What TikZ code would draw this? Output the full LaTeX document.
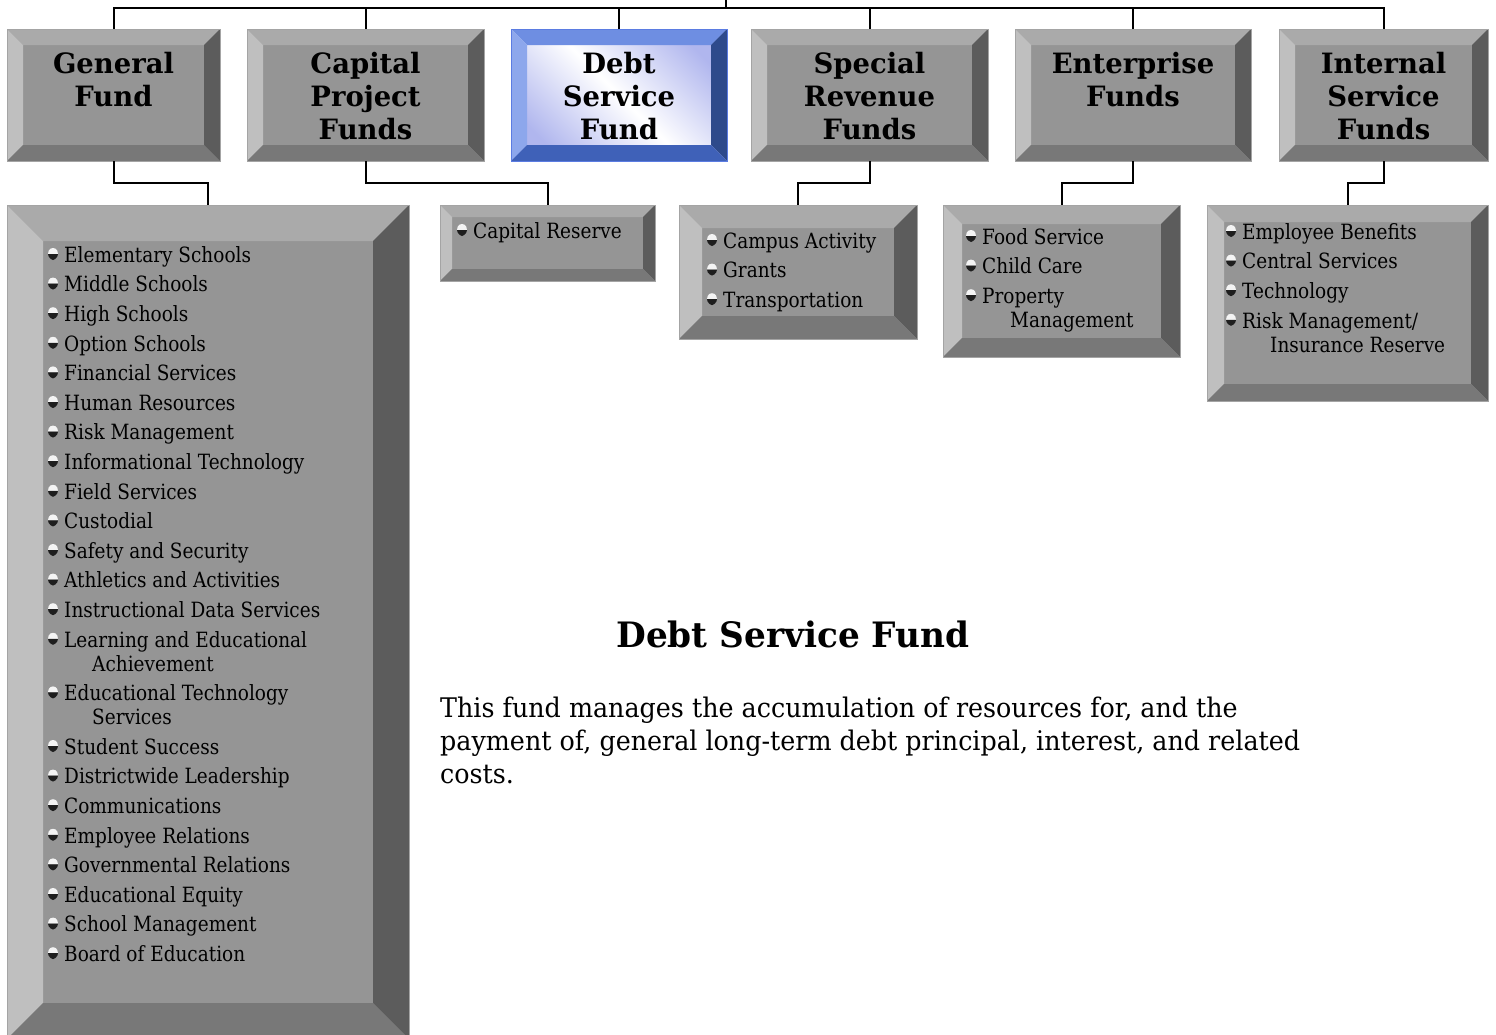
\documentclass[tikz,border=0pt]{standalone}
\usepackage{fontspec}
\setmainfont{DejaVu Serif}[FakeStretch=0.94, BoldFeatures={FakeStretch=0.98}]
\newfontfamily\listfont{DejaVu Serif}[FakeStretch=0.88]
\usepackage{tikz}
\usetikzlibrary{calc}
\definecolor{face}{HTML}{959595}
\definecolor{bevTop}{HTML}{AAAAAA}
\definecolor{bevLeft}{HTML}{BFBFBF}
\definecolor{bevRight}{HTML}{5C5C5C}
\definecolor{bevBot}{HTML}{787878}
\definecolor{rim}{HTML}{A4A4A4}
\definecolor{blueTop}{HTML}{6E8EE2}
\definecolor{blueLeft}{HTML}{8DA7EC}
\definecolor{blueRight}{HTML}{2E4A8B}
\definecolor{blueBot}{HTML}{3F61B8}
\definecolor{blueRim}{HTML}{5B7CE2}
\definecolor{blueFace}{HTML}{B0B6EE}
\definecolor{bulTop}{HTML}{F4F4F4}
\definecolor{bulBot}{HTML}{1E1E1E}
\newcommand{\wrapin}{\hspace*{28pt}}
\newcommand{\isep}{5.6pt}
\tikzset{
  bevel width/.store in=\bevW, bevel width=16pt,
  bev top/.store in=\bvT, bev top=bevTop,
  bev left/.store in=\bvL, bev left=bevLeft,
  bev right/.store in=\bvR, bev right=bevRight,
  bev bot/.store in=\bvB, bev bot=bevBot,
  fundBox/.style={draw=rim, line width=0.8pt, fill=face, inner sep=0pt, outer sep=0pt,
    anchor=north west,
    path picture={
      \coordinate (nw) at (path picture bounding box.north west);
      \coordinate (ne) at (path picture bounding box.north east);
      \coordinate (se) at (path picture bounding box.south east);
      \coordinate (sw) at (path picture bounding box.south west);
      \fill[\bvT] (nw) -- (ne) -- ($(ne)+(-\bevW,-\bevW)$) -- ($(nw)+(\bevW,-\bevW)$) -- cycle;
      \fill[\bvL] (nw) -- ($(nw)+(\bevW,-\bevW)$) -- ($(sw)+(\bevW,\bevW)$) -- (sw) -- cycle;
      \fill[\bvR] (ne) -- (se) -- ($(se)+(-\bevW,\bevW)$) -- ($(ne)+(-\bevW,-\bevW)$) -- cycle;
      \fill[\bvB] (sw) -- (se) -- ($(se)+(-\bevW,\bevW)$) -- ($(sw)+(\bevW,\bevW)$) -- cycle;
    }},
  blueBox/.style={fundBox, draw=blueRim, top color=blueFace, bottom color=blueFace,
    middle color=white, shading angle=-45,
    bev top=blueTop, bev left=blueLeft, bev right=blueRight, bev bot=blueBot},
  fundTitle/.style={align=center, font=\fontsize{28}{33}\selectfont\bfseries},
  listText/.style={anchor=north west, inner sep=0pt, align=left,
    font=\fontsize{21}{24}\selectfont\listfont},
  treeLink/.style={draw=black, line width=2pt},
  bulletMark/.pic={
    \fill[bulTop] (-5pt,0pt) -- (-4.3pt,3.3pt) -- (-2.6pt,5.3pt) -- (0pt,6pt)
      -- (2.6pt,5.3pt) -- (4.3pt,3.3pt) -- (5pt,0pt) -- cycle;
    \fill[bulBot] (-5pt,0pt) -- (-4.3pt,-2.6pt) -- (-2.4pt,-4.8pt) -- (0pt,-6pt)
      -- (2.4pt,-4.8pt) -- (4.3pt,-2.6pt) -- (5pt,0pt) -- cycle;
  }
}

\begin{document}
\begin{tikzpicture}[x=1pt,y=-1pt]
  \useasboundingbox (0,0) rectangle (1496,1034);
  \fill[white] (0,0) rectangle (1496,1034);
  \clip (0,0) rectangle (1496,1034);

  \coordinate (root) at (726,0);
  \coordinate (bus) at (726,8);

  % fund row
  \node[fundBox, fundTitle, minimum width=213pt, minimum height=132pt] (genfund) at (7,29)
    {\strut General\\Fund\\\mbox{}};
  \node[fundBox, fundTitle, minimum width=237pt, minimum height=132pt] (capfund) at (247,29)
    {\strut Capital\\Project\\Funds};
  \node[blueBox, fundTitle, minimum width=216pt, minimum height=132pt] (debtfund) at (511,29)
    {\strut Debt\\Service\\Fund};
  \node[fundBox, fundTitle, minimum width=237pt, minimum height=132pt] (specfund) at (751,29)
    {\strut Special\\Revenue\\Funds};
  \node[fundBox, fundTitle, minimum width=236pt, minimum height=132pt] (entfund) at (1015,29)
    {\strut Enterprise\\Funds\\\mbox{}};
  \node[fundBox, fundTitle, minimum width=209pt, minimum height=132pt] (intfund) at (1279,29)
    {\strut Internal\\Service\\Funds};

  % sub-fund boxes
  \node[fundBox, bevel width=36pt, minimum width=402pt, minimum height=834pt] (genlist) at (7,205) {};
  \node[fundBox, bevel width=12pt, minimum width=215pt, minimum height=76pt] (caplist) at (440,205) {};
  \node[fundBox, bevel width=23pt, minimum width=238pt, minimum height=134pt] (speclist) at (679,205) {};
  \node[fundBox, bevel width=19pt, minimum width=237pt, minimum height=152pt] (entlist) at (943,205) {};
  \node[fundBox, bevel width=17pt, minimum width=281pt, minimum height=196pt] (intlist) at (1207,205) {};

  \draw[treeLink] (root) -- (bus);
  \draw[treeLink] (genfund.north) |- (bus);
  \draw[treeLink] (capfund.north) |- (bus);
  \draw[treeLink] (debtfund.north) |- (bus);
  \draw[treeLink] (specfund.north) |- (bus);
  \draw[treeLink] (entfund.north) |- (bus);
  \draw[treeLink] (intfund.north) |- (bus);

  \draw[treeLink] (genfund.south) |- ($(genfund.south)!.5!(genlist.north)$) -| (genlist.north);
  \draw[treeLink] (capfund.south) |- ($(capfund.south)!.5!(caplist.north)$) -| (caplist.north);
  \draw[treeLink] (specfund.south) |- ($(specfund.south)!.5!(speclist.north)$) -| (speclist.north);
  \draw[treeLink] (entfund.south) |- ($(entfund.south)!.5!(entlist.north)$) -| (entlist.north);
  \draw[treeLink] (intfund.south) |- ($(intfund.south)!.5!(intlist.north)$) -| (intlist.north);

  \node[listText] (genitems) at (64,245.2) {\strut Elementary Schools\\[\isep]
    Middle Schools\\[\isep]
    High Schools\\[\isep]
    Option Schools\\[\isep]
    Financial Services\\[\isep]
    Human Resources\\[\isep]
    Risk Management\\[\isep]
    Informational Technology\\[\isep]
    Field Services\\[\isep]
    Custodial\\[\isep]
    Safety and Security\\[\isep]
    Athletics and Activities\\[\isep]
    Instructional Data Services\\[\isep]
    Learning and Educational\\
    \wrapin Achievement\\[\isep]
    Educational Technology\\
    \wrapin Services\\[\isep]
    Student Success\\[\isep]
    Districtwide Leadership\\[\isep]
    Communications\\[\isep]
    Employee Relations\\[\isep]
    Governmental Relations\\[\isep]
    Educational Equity\\[\isep]
    School Management\\[\isep]
    Board of Education};
  \node[listText] (capitems) at (473,221.2) {\strut Capital Reserve};
  \node[listText] (specitems) at (723,231.2) {\strut Campus Activity\\[\isep]
    Grants\\[\isep]
    Transportation};
  \node[listText] (entitems) at (982,227.2) {\strut Food Service\\[\isep]
    Child Care\\[\isep]
    Property\\
    \wrapin Management};
  \node[listText] (intitems) at (1242,222.2) {\strut Employee Benefits\\[\isep]
    Central Services\\[\isep]
    Technology\\[\isep]
    Risk Management/\\
    \wrapin Insurance Reserve};

  % bullets, one per item
  \foreach \k in {0,...,13}
    \pic at ($(genitems.north west)+(-11,8.8+29.6*\k)$) {bulletMark};
  \pic at ($(genitems.north west)+(-11,8.8+29.6*14+24)$) {bulletMark};
  \foreach \k in {15,...,22}
    \pic at ($(genitems.north west)+(-11,8.8+29.6*\k+48)$) {bulletMark};
  \pic at ($(capitems.north west)+(-11,8.8)$) {bulletMark};
  \foreach \k in {0,1,2} {
    \pic at ($(specitems.north west)+(-11,8.8+29.6*\k)$) {bulletMark};
    \pic at ($(entitems.north west)+(-11,8.8+29.6*\k)$) {bulletMark};
  }
  \foreach \k in {0,...,3}
    \pic at ($(intitems.north west)+(-11,8.8+29.6*\k)$) {bulletMark};

  \node[anchor=base, inner sep=0pt, font=\fontsize{35}{40}\selectfont\bfseries] (heading) at (793,647)
    {Debt Service Fund};
  \node[anchor=north west, inner sep=0pt, align=left, font=\fontsize{27}{33.3}\selectfont] (about) at (440,693.7)
    {\strut This fund manages the accumulation of resources for, and the\\
     payment of, general long-term debt principal, interest, and related\\
     costs.};
\end{tikzpicture}
\end{document}
